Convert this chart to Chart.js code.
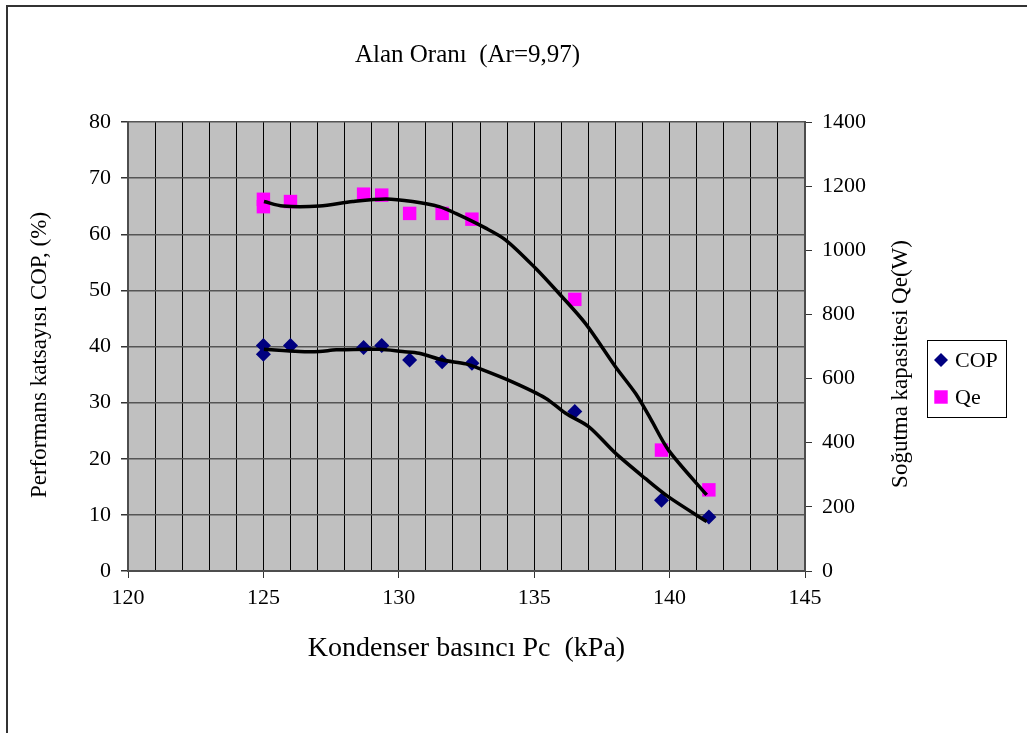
<!DOCTYPE html>
<html>
<head>
<meta charset="utf-8">
<script src="https://cdn.jsdelivr.net/npm/chart.js@4.4.1/dist/chart.umd.min.js"></script>
<style>
  html, body { margin: 0; padding: 0; background: #fff; }
  #wrap { width: 1027px; height: 733px; }
</style>
</head>
<body>
<div id="wrap"><canvas id="copChart" width="1027" height="733"></canvas></div>
<script>
// measured points (Kondenser basinci, kPa)
const pressure = [125, 125, 126, 128.7, 129.37, 130.4, 131.6, 132.7, 136.5, 139.7, 141.45];
const copValues = [40.2, 38.6, 40.2, 39.8, 40.2, 37.6, 37.3, 37.0, 28.4, 12.6, 9.6];
const qePressure = [125, 125, 126, 128.7, 129.37, 130.4, 131.6, 132.7, 136.5, 139.7, 141.45];
const qeValues = [1159, 1136, 1152, 1175, 1172, 1115, 1115, 1097, 847, 377, 253];

// trend lines
const copTrendX = [125.02, 126.33, 127.07, 127.69, 129.28, 130.14, 130.75, 131.61, 132.47, 132.96, 134.19, 135.42, 136.16, 137.02, 138.0, 139.1, 139.96, 141.37];
const copTrendY = [39.5, 39.1, 39.1, 39.4, 39.5, 39.1, 38.8, 37.6, 36.9, 36.1, 33.7, 30.8, 28.1, 25.7, 21.0, 16.5, 13.2, 8.8];
const qeTrendX = [125.02, 125.72, 127.07, 128.3, 129.53, 130.51, 131.49, 132.1, 133.21, 133.95, 135.05, 135.91, 136.89, 138.0, 138.74, 139.29, 139.96, 141.37];
const qeTrendY = [1152, 1138, 1138, 1152, 1160, 1152, 1136, 1115, 1069, 1032, 944, 866, 772, 637, 554, 476, 377, 237];

const xTicks = [120, 125, 130, 135, 140, 145];

const toPoints = (xs, ys) => xs.map((x, i) => ({ x: x, y: ys[i] }));

const serif = 'Liberation Serif';

// outer frame of the picture
const framePlugin = {
    id: 'frame',
    beforeDraw(chart) {
        const ctx = chart.ctx;
        ctx.save();
        ctx.strokeStyle = '#333';
        ctx.lineWidth = 2;
        ctx.beginPath();
        ctx.moveTo(7, 740);
        ctx.lineTo(7, 6);
        ctx.lineTo(1030, 6);
        ctx.stroke();
        ctx.restore();
    }
};

// plot background
const plotBgPlugin = {
    id: 'plotBg',
    beforeDraw(chart) {
        const a = chart.chartArea;
        const ctx = chart.ctx;
        ctx.save();
        ctx.fillStyle = '#c0c0c0';
        ctx.fillRect(a.left, a.top, a.right - a.left, a.bottom - a.top);
        ctx.restore();
    }
};

// both y titles read bottom-to-top and sit a bit below the plot centre
const sideTitlesPlugin = {
    id: 'sideTitles',
    afterDraw(chart) {
        const ctx = chart.ctx;
        const titles = [
            { text: 'Performans katsayısı COP, (%)', x: 40, y: 355 },
            { text: 'Soğutma kapasitesi Qe(W)', x: 901, y: 364 }
        ];
        ctx.save();
        ctx.font = '23px "' + serif + '"';
        ctx.fillStyle = '#000';
        ctx.textAlign = 'center';
        ctx.textBaseline = 'middle';
        titles.forEach((t) => {
            ctx.save();
            ctx.translate(t.x, t.y);
            ctx.rotate(-Math.PI / 2);
            ctx.fillText(t.text, 0, 0);
            ctx.restore();
        });
        ctx.restore();
    }
};

// boxed legend like the original
const boxLegendPlugin = {
    id: 'boxLegend',
    afterDraw(chart) {
        const ctx = chart.ctx;
        const items = [
            { label: 'COP', style: 'rectRot', color: '#000080', radius: 7 },
            { label: 'Qe', style: 'rect', color: '#ff00ff', radius: 9.5 }
        ];
        ctx.save();
        ctx.fillStyle = '#fff';
        ctx.fillRect(927, 340, 80, 78);
        ctx.strokeStyle = '#000';
        ctx.lineWidth = 1;
        ctx.strokeRect(927.5, 340.5, 79, 77);
        ctx.font = '22px "' + serif + '"';
        ctx.textBaseline = 'middle';
        items.forEach((it, i) => {
            const y = 360 + i * 37;
            ctx.fillStyle = it.color;
            ctx.strokeStyle = it.color;
            Chart.helpers.drawPoint(ctx, { pointStyle: it.style, radius: it.radius, borderWidth: 0, rotation: 0 }, 941, y);
            ctx.fillStyle = '#000';
            ctx.fillText(it.label, 955, y + 1);
        });
        ctx.restore();
    }
};

new Chart(document.getElementById('copChart'), {
    type: 'scatter',
    data: {
        datasets: [
            {
                label: 'COP trend',
                data: toPoints(copTrendX, copTrendY),
                showLine: true,
                borderColor: '#000',
                borderWidth: 3.5,
                pointRadius: 0,
                tension: 0.3,
                yAxisID: 'y',
                order: 0
            },
            {
                label: 'Qe trend',
                data: toPoints(qeTrendX, qeTrendY),
                showLine: true,
                borderColor: '#000',
                borderWidth: 3.5,
                pointRadius: 0,
                tension: 0.3,
                yAxisID: 'y1',
                order: 0
            },
            {
                label: 'COP',
                data: toPoints(pressure, copValues),
                pointStyle: 'rectRot',
                pointRadius: 7.5,
                backgroundColor: '#000080',
                borderColor: '#000080',
                borderWidth: 0,
                yAxisID: 'y',
                order: 1
            },
            {
                label: 'Qe',
                data: toPoints(qePressure, qeValues),
                pointStyle: 'rect',
                pointRadius: 9.5,
                backgroundColor: '#ff00ff',
                borderColor: '#ff00ff',
                borderWidth: 0,
                yAxisID: 'y1',
                order: 1
            }
        ]
    },
    options: {
        responsive: false,
        animation: false,
        layout: { padding: { left: 0, right: 92, top: 0, bottom: 0 } },
        plugins: {
            legend: { display: false },
            tooltip: { enabled: false },
            title: {
                display: true,
                text: 'Alan Oranı  (Ar=9,97)',
                color: '#000',
                font: { family: serif, size: 25, weight: 'normal' },
                padding: { top: 40, bottom: 52 }
            }
        },
        scales: {
            x: {
                type: 'linear',
                min: 120,
                max: 145,
                afterBuildTicks: (scale) => {
                    const t = [];
                    for (let v = 120; v <= 145; v++) t.push({ value: v });
                    scale.ticks = t;
                },
                afterFit: (scale) => { scale.height = 162; },
                ticks: {
                    color: '#000',
                    font: { family: serif, size: 22 },
                    padding: 7,
                    autoSkip: false,
                    maxRotation: 0,
                    callback: (v) => (xTicks.includes(v) ? String(v) : '')
                },
                grid: {
                    color: '#000',
                    lineWidth: 1,
                    tickLength: 7,
                    tickColor: (c) => (c.tick && c.tick.value % 5 === 0 ? '#333' : 'rgba(0,0,0,0)')
                },
                border: { color: '#4d4d4d', width: 2 },
                title: {
                    display: true,
                    text: 'Kondenser basıncı Pc  (kPa)',
                    color: '#000',
                    font: { family: serif, size: 28 },
                    padding: { top: 0, bottom: 68 }
                }
            },
            y: {
                type: 'linear',
                position: 'left',
                min: 0,
                max: 80,
                afterFit: (scale) => { scale.width = 128; },
                ticks: {
                    stepSize: 10,
                    color: '#000',
                    font: { family: serif, size: 22 },
                    padding: 10
                },
                grid: {
                    color: '#555',
                    lineWidth: 1.5,
                    tickLength: 7,
                    tickColor: '#333'
                },
                border: { color: '#4d4d4d', width: 2 },
                title: { display: false }
            },
            y1: {
                type: 'linear',
                position: 'right',
                min: 0,
                max: 1400,
                afterFit: (scale) => { scale.width = 130; },
                ticks: {
                    stepSize: 200,
                    color: '#000',
                    font: { family: serif, size: 22 },
                    padding: 10,
                    callback: (v) => String(v)
                },
                grid: {
                    drawOnChartArea: false,
                    tickLength: 7,
                    tickColor: '#333'
                },
                border: { color: '#4d4d4d', width: 2 },
                title: { display: false }
            }
        }
    },
    plugins: [framePlugin, plotBgPlugin, sideTitlesPlugin, boxLegendPlugin]
});
</script>
</body>
</html>
